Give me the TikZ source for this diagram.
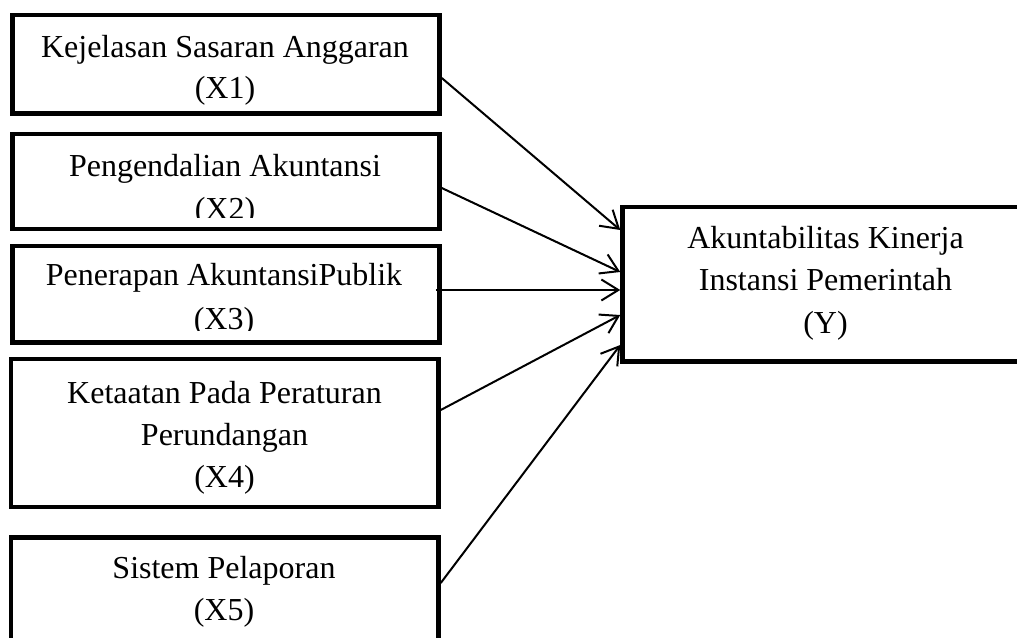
\documentclass[tikz,border=0pt]{standalone}
\usepackage{fontspec}
\setmainfont{Liberation Serif}
\usetikzlibrary{arrows.meta}
\begin{document}
\begin{tikzpicture}[x=1pt,y=-1pt,
  boxst/.style={draw, line width=4.5pt, rectangle, inner sep=0pt},
  txt/.style={align=center, inner sep=0pt, anchor=base},
  link/.style={line width=2pt, -{Straight Barb[length=17pt,width=21pt]}}]
\useasboundingbox (0,0) rectangle (1017,637);
\clip (0,0) rectangle (1017,637);
% boxes
\node[boxst, minimum width=427pt, minimum height=98.5pt] (x1) at (226,64.25) {};
\node[boxst, minimum width=427pt, minimum height=95pt] (x2) at (226,181.5) {};
\node[boxst, minimum width=427pt, minimum height=96.5pt] (x3) at (226,294.25) {};
\node[boxst, minimum width=427.5pt, minimum height=147.7pt] (x4) at (224.75,433) {};
\node[boxst, minimum width=427.5pt, minimum height=142.5pt] (x5) at (224.75,608.75) {};
\node[boxst, minimum width=407.5pt, minimum height=154.5pt] (y) at (826.25,284.25) {};
% texts (anchor = baseline of the last line)
\node[txt, font=\fontsize{32}{41}\selectfont] (t1) at (225,98) {Kejelasan Sasaran Anggaran\\(X1)};
\begin{scope}
\clip (14,136) rectangle (437,217);
\node[txt, font=\fontsize{32}{43}\selectfont] (t2) at (225,219.5) {Pengendalian Akuntansi\\(X2)};
\end{scope}
\begin{scope}
\clip (14,248) rectangle (437,330);
\node[txt, font=\fontsize{32}{44}\selectfont] (t3) at (224,329.5) {Penerapan AkuntansiPublik\\(X3)};
\end{scope}
\node[txt, font=\fontsize{32}{42}\selectfont] (t4) at (224.5,487) {Ketaatan Pada Peraturan\\Perundangan\\(X4)};
\node[txt, font=\fontsize{32}{42}\selectfont] (t5) at (224,620) {Sistem Pelaporan\\(X5)};
\node[txt, font=\fontsize{32}{42.5}\selectfont] (ty) at (825.5,333) {Akuntabilitas Kinerja\\Instansi Pemerintah\\(Y)};
% connectors
\draw[link] (x1.east |- 0,78) -- (y.west |- 0,230);
\draw[link] (x2.east |- 0,188) -- (y.west |- 0,272);
\draw[link] ([xshift=-6pt]x3.east |- 0,290) -- (y.west |- 0,290);
\draw[link] (x4.east |- 0,410) -- (y.west |- 0,315);
\draw[link] (x5.east |- 0,583) -- (y.west |- 0,345);
\end{tikzpicture}
\end{document}
